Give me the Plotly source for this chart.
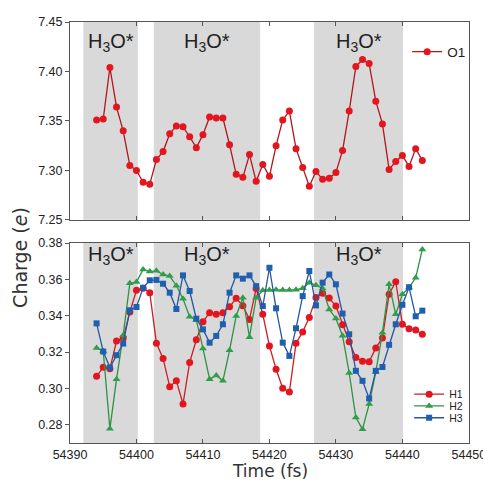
import plotly.graph_objects as go

# ---------------- data ----------------
time_fs = list(range(54394, 54444))

o1 = [7.351, 7.352, 7.404, 7.364, 7.340, 7.305, 7.300, 7.288, 7.286, 7.311,
      7.319, 7.337, 7.345, 7.344, 7.334, 7.323, 7.336, 7.354, 7.353, 7.353,
      7.326, 7.296, 7.293, 7.316, 7.289, 7.306, 7.294, 7.325, 7.351, 7.360,
      7.322, 7.303, 7.284, 7.299, 7.291, 7.292, 7.298, 7.320, 7.360, 7.405,
      7.412, 7.408, 7.370, 7.347, 7.301, 7.309, 7.315, 7.304, 7.322, 7.310]

h1 = [0.3067, 0.3117, 0.3108, 0.3261, 0.3277, 0.3420, 0.3540, 0.3551, 0.3527, 0.3249,
      0.3165, 0.3010, 0.3042,
      0.2915, 0.3143, 0.3268, 0.3367, 0.3417, 0.3408, 0.3417, 0.3449, 0.3496, 0.3455,
      0.3380, 0.3550, 0.3408,
      0.3234, 0.3106, 0.3001, 0.2980, 0.3249, 0.3311, 0.3391, 0.3501, 0.3524, 0.3497,
      0.3453, 0.3350, 0.3257, 0.3170, 0.3150, 0.3147, 0.3223, 0.3278, 0.3518, 0.3587,
      0.3353, 0.3328, 0.3322, 0.3298]

h2 = [0.3223, 0.3205, 0.2778, 0.3051, 0.3293, 0.3579, 0.3585, 0.3655, 0.3643, 0.3647,
      0.3627, 0.3618, 0.3565,
      0.3494, 0.3394, 0.3377, 0.3220, 0.3051, 0.3072, 0.3042, 0.3210, 0.3399, 0.3499,
      0.3282, 0.3499, 0.3540,
      0.3542, 0.3543, 0.3541, 0.3541, 0.3543, 0.3551, 0.3582, 0.3568, 0.3550, 0.3435,
      0.3385, 0.3290, 0.3085, 0.2840, 0.2776, 0.2914, 0.3091, 0.3307, 0.3573, 0.3408,
      0.3518, 0.3555, 0.3609, 0.3765]

h3 = [0.3358, 0.3203, 0.3115, 0.3183, 0.3247, 0.3430, 0.3448, 0.3554, 0.3595, 0.3597,
      0.3576, 0.3527, 0.3437,
      0.3622, 0.3536, 0.3384, 0.3325, 0.3252, 0.3289, 0.3353, 0.3527, 0.3622, 0.3604,
      0.3622, 0.3563, 0.3453,
      0.3664, 0.3441, 0.3252, 0.3179, 0.3331, 0.3508, 0.3646, 0.3457, 0.3582, 0.3627,
      0.3573, 0.3412, 0.3298, 0.3097, 0.3042, 0.2945, 0.3097, 0.3118, 0.3240, 0.3353,
      0.3460, 0.3557, 0.3397, 0.3428]

h3o_regions = [(54392.0, 54400.2), (54402.6, 54418.6), (54426.7, 54440.1)]
region_label = "H<sub>3</sub>O*"

x_range = [54390, 54450.02]
top_range = [7.25, 7.45]
bot_range = [0.27, 0.38]

# ---------------- styles ----------------
FONT = "Liberation Sans, Arial, sans-serif"
TITLE_FONT = "DejaVu Sans, Verdana, sans-serif"
AX = "#555555"
SHADE = "#D9D9D9"

fig = go.Figure()

fig.add_trace(go.Scatter(x=time_fs, y=o1, mode="lines+markers", name="O1",
                         line=dict(color="#B0151C", width=1.3),
                         marker=dict(color="#E3161F", size=7, symbol="circle"),
                         xaxis="x", yaxis="y", legend="legend", showlegend=True))

series = [("H1", h1, "#C81E24", "#E3161F", "circle", 7, "legend2"),
          ("H2", h2, "#2E9244", "#2E9E4A", "triangle-up", 7, "legend3"),
          ("H3", h3, "#2456A4", "#1F5FAF", "square", 6, "legend4")]
for name, vals, lc, mc, sym, sz, lg in series:
    fig.add_trace(go.Scatter(x=time_fs, y=vals, mode="lines+markers", name=name,
                             line=dict(color=lc, width=1.3),
                             marker=dict(color=mc, size=sz, symbol=sym),
                             xaxis="x2", yaxis="y2", legend=lg, showlegend=True))

shapes = []
annotations = []
for x0, x1 in h3o_regions:
    for xr, yr, ly in (("x", "y domain", 0.895), ("x2", "y2 domain", 0.94)):
        shapes.append(dict(type="rect", xref=xr, yref=yr, x0=x0, x1=x1, y0=0, y1=1,
                           fillcolor=SHADE, line=dict(width=0), layer="below"))
        annotations.append(dict(x=(x0 + x1) / 2, y=ly, xref=xr, yref=yr,
                                text=region_label, showarrow=False,
                                font=dict(family=FONT, size=20, color="#222222"),
                                xanchor="center", yanchor="middle"))

annotations.append(dict(x=-0.125, y=0.44, xref="paper", yref="paper",
                        text="Charge (<i>e</i>)", textangle=-90, showarrow=False,
                        font=dict(family=TITLE_FONT, size=19, color="#333333"),
                        xanchor="center", yanchor="middle"))
annotations.append(dict(x=0.5, y=-0.067, xref="paper", yref="paper",
                        text="Time (fs)", showarrow=False,
                        font=dict(family=TITLE_FONT, size=17, color="#333333"),
                        xanchor="center", yanchor="middle"))

xcommon = dict(range=x_range, tick0=54390, dtick=10, ticks="inside", ticklen=4,
               tickcolor=AX, showline=True, linecolor=AX, linewidth=1, mirror="ticks",
               showgrid=False, zeroline=False, tickformat="d", ticklabeloverflow="allow",
               tickfont=dict(family=FONT, size=12.5, color="#222222"))
ycommon = dict(ticks="outside", ticklen=4, tickcolor=AX, showline=True, linecolor=AX,
               linewidth=1, mirror=True, showgrid=False, zeroline=False,
               tickfont=dict(family=FONT, size=12.5, color="#222222"))
yright = dict(side="right", ticks="inside", ticklen=4, tickcolor=AX,
              showticklabels=False, showline=False, showgrid=False, zeroline=False)

legend_common = dict(bgcolor="rgba(0,0,0,0)", borderwidth=0, xanchor="left",
                     yanchor="middle", itemwidth=30, tracegroupgap=0, visible=True)

fig.update_layout(
    width=483, height=481,
    margin=dict(l=70, r=14, t=22, b=38, autoexpand=False),
    plot_bgcolor="white", paper_bgcolor="white",
    showlegend=True,
    xaxis=dict(**xcommon, anchor="y", domain=[0, 1], showticklabels=False, matches="x2"),
    xaxis2=dict(**xcommon, anchor="y2", domain=[0, 1]),
    yaxis=dict(**ycommon, anchor="x", domain=[0.53, 1.0], range=top_range,
               tick0=7.25, dtick=0.05, tickformat=".2f"),
    yaxis2=dict(**ycommon, anchor="x2", domain=[0.0, 0.475], range=bot_range,
                tick0=0.28, dtick=0.02, tickformat=".2f"),
    yaxis3=dict(**yright, overlaying="y", anchor="x", range=top_range, tick0=7.25, dtick=0.05),
    yaxis4=dict(**yright, overlaying="y2", anchor="x2", range=bot_range, tick0=0.28, dtick=0.02),
    legend=dict(**legend_common, x=0.845, y=0.929, font=dict(family=FONT, size=13.5, color="#222222")),
    legend2=dict(**legend_common, x=0.85, y=0.116, font=dict(family=FONT, size=10.5, color="#222222")),
    legend3=dict(**legend_common, x=0.85, y=0.088, font=dict(family=FONT, size=10.5, color="#222222")),
    legend4=dict(**legend_common, x=0.85, y=0.060, font=dict(family=FONT, size=10.5, color="#222222")),
    shapes=shapes, annotations=annotations,
)

fig.write_html("out.html")
